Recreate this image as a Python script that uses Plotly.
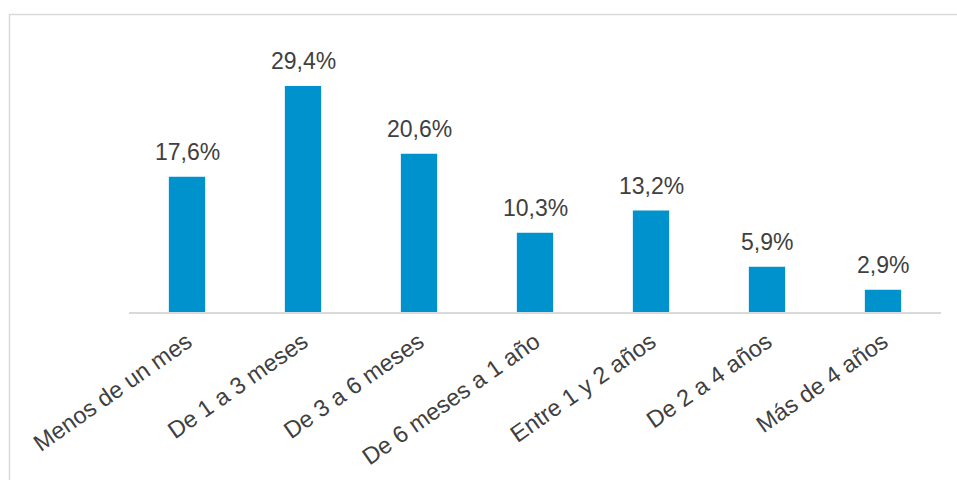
import plotly.graph_objects as go

categories = ["Menos de un mes", "De 1 a 3 meses", "De 3 a 6 meses", "De 6 meses a 1 año",
              "Entre 1 y 2 años", "De 2 a 4 años", "Más de 4 años"]
values = [17.6, 29.4, 20.6, 10.3, 13.2, 5.9, 2.9]
labels = [f"{v:.1f}".replace(".", ",") + "%" for v in values]

BAR = "#0092CD"
TXT = "#404040"
FONT = "Liberation Sans, Arial, sans-serif"

fig = go.Figure(go.Bar(x=categories, y=values, marker=dict(color=BAR, line=dict(width=0)),
                       width=0.313, hoverinfo="skip"))

for c, v, t in zip(categories, values, labels):
    fig.add_annotation(x=c, y=v, text=t, showarrow=False, yanchor="bottom", yshift=10,
                       font=dict(family=FONT, size=23, color=TXT))

L, R, T, B = 129, 16, 43, 168
W, H = 957, 480
pw, ph = W - L - R, H - T - B
fig.add_shape(type="rect", xref="paper", yref="paper",
              x0=(9.5 - L) / pw, x1=(W + 20 - L) / pw,
              y0=(H - B - (H + 20)) / ph, y1=(H - B - 14.5) / ph,
              line=dict(color="#d9d9d9", width=1.5), fillcolor="rgba(0,0,0,0)", layer="below")

fig.update_layout(
    width=W, height=H, margin=dict(l=L, r=R, t=T, b=B, autoexpand=False),
    paper_bgcolor="white", plot_bgcolor="white", showlegend=False,
    xaxis=dict(showline=True, linecolor="#d9d9d9", linewidth=2, ticks="", tickangle=-35,
               tickfont=dict(family=FONT, size=23.5, color=TXT), showgrid=False, fixedrange=True,
               ticklabelstandoff=5, automargin=False),
    yaxis=dict(range=[0, 35], visible=False, showgrid=False, fixedrange=True, automargin=False),
)
fig.write_html("out.html", config={"displayModeBar": False})
